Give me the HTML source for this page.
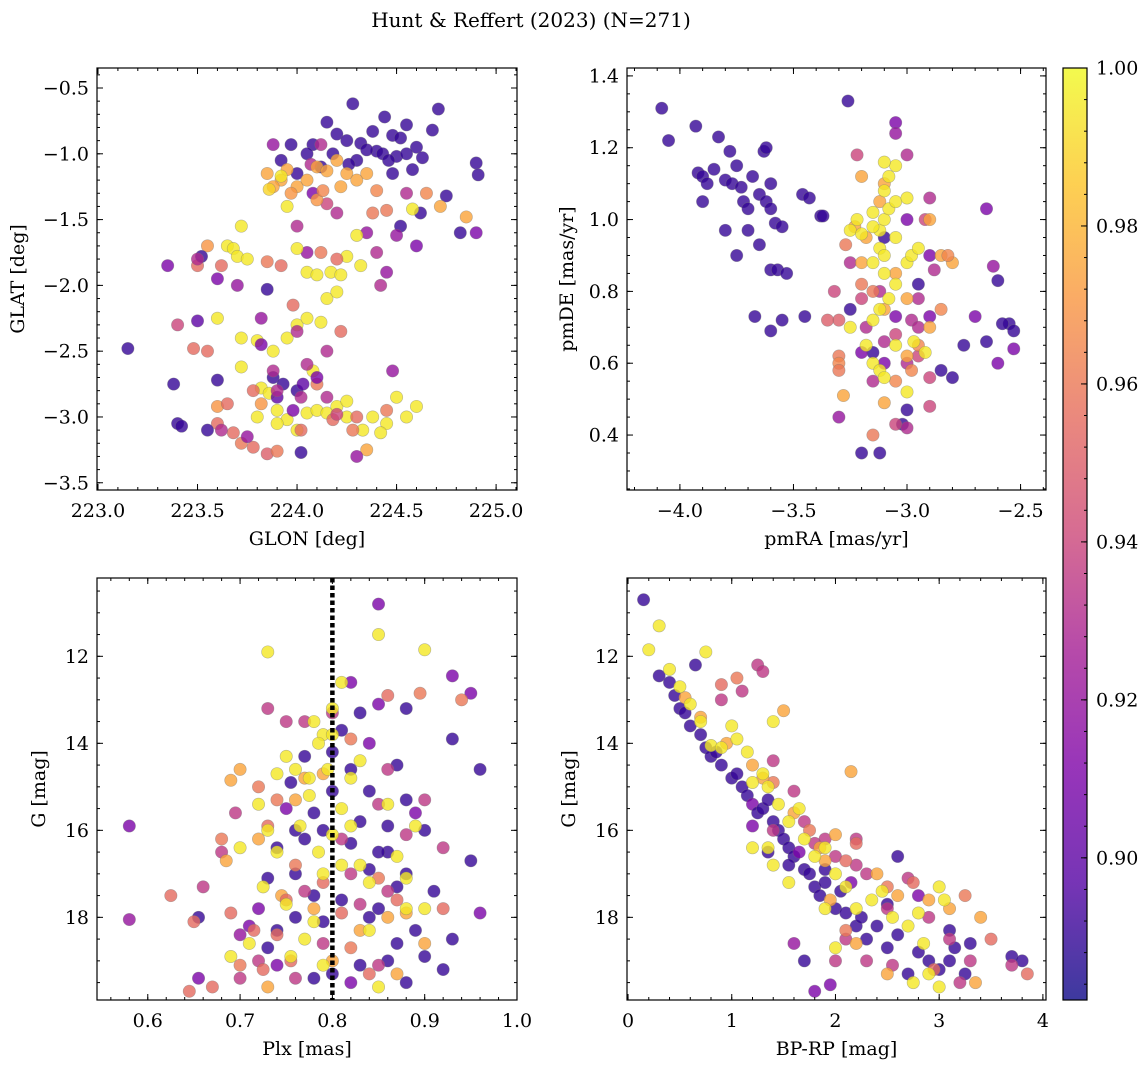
<!DOCTYPE html>
<html><head><meta charset="utf-8"><style>
html,body{margin:0;padding:0;background:#fff;}
svg{display:block;font-family:"DejaVu Serif","Liberation Serif",serif;}
</style></head><body>
<svg id="chart" width="1148" height="1067" viewBox="0 0 1148 1067">
<text x="531" y="27" font-size="20" text-anchor="middle">Hunt &amp; Reffert (2023) (N=271)</text>
</svg>
<script>
// ---- data: [x, y, membership probability] ----
const posData = [
[224.28,-0.62,0.89],[224.71,-0.66,0.89],[224.44,-0.72,0.89],[224.15,-0.76,0.89],[224.55,-0.78,0.89],[224.2,-0.85,0.89],[224.38,-0.83,0.89],[224.48,-0.86,0.89],[224.52,-0.88,0.89],[224.25,-0.9,0.89],[224.32,-0.92,0.89],[224.08,-0.93,0.89],[224.6,-0.95,0.89],[224.4,-0.98,0.89],[224.35,-0.97,0.89],[224.43,-1.0,0.89],[224.5,-1.02,0.89],[224.55,-1.0,0.89],[224.63,-1.03,0.89],[224.46,-1.05,0.89],[224.3,-1.05,0.89],[224.26,-1.08,0.89],[224.18,-1.0,0.89],[224.12,-1.1,0.89],[224.68,-0.82,0.89],[224.9,-1.07,0.89],[224.91,-1.16,0.89],[224.58,-1.12,0.89],[224.48,-1.15,0.89],[224.75,-1.32,0.89],[224.62,-1.45,0.89],[224.82,-1.6,0.89],[224.9,-1.6,0.91],[224.6,-1.7,0.91],[224.52,-1.55,0.89],[223.97,-0.93,0.89],[224.0,-1.15,0.89],[223.92,-1.05,0.89],[224.08,-1.3,0.91],[224.12,-0.93,0.93],[224.05,-1.0,0.89],
[223.88,-0.93,0.92],[224.07,-1.08,0.93],[224.2,-1.45,0.93],[224.35,-1.6,0.92],[224.05,-1.75,0.92],[224.0,-1.55,0.93],[224.15,-1.38,0.94],[224.55,-1.3,0.93],[224.5,-1.62,0.92],[224.4,-1.75,0.93],[224.45,-1.9,0.92],
[223.85,-1.15,0.975],[223.92,-1.2,0.975],[223.95,-1.12,0.975],[224.0,-1.25,0.975],[224.1,-1.1,0.975],[224.15,-1.13,0.975],[224.2,-1.05,0.975],[224.25,-1.15,0.975],[224.3,-1.2,0.975],[223.97,-1.3,0.97],[224.05,-1.2,0.975],[224.1,-1.35,0.97],[223.88,-1.25,0.975],[224.13,-1.28,0.965],[224.22,-1.25,0.975],[224.35,-1.15,0.975],[224.4,-1.28,0.965],[224.65,-1.3,0.965],[224.72,-1.4,0.975],[224.85,-1.48,0.975],[224.38,-1.45,0.96],[224.45,-1.43,0.96],
[223.92,-1.17,0.995],[223.95,-1.4,0.995],[223.86,-1.27,0.99],[223.72,-1.55,0.995],[223.65,-1.7,0.995],[223.68,-1.72,0.995],[223.7,-1.78,0.995],[223.75,-1.8,0.995],[224.0,-1.72,0.995],[224.05,-1.9,0.995],[224.1,-1.92,0.995],[224.17,-1.9,0.995],[224.22,-1.92,0.995],[224.25,-1.78,0.995],[224.3,-1.62,0.995],[224.32,-1.85,0.995],[224.58,-1.42,0.995],[224.15,-2.1,0.995],[224.2,-2.05,0.995],[224.0,-2.3,0.995],[224.05,-2.25,0.995],[224.12,-2.28,0.995],[223.88,-2.5,0.995],[223.72,-2.4,0.995],[223.8,-2.42,0.995],[223.6,-2.25,0.995],[223.95,-2.4,0.995],
[223.82,-2.78,0.995],[223.86,-2.82,0.995],[223.9,-2.95,0.995],[223.95,-3.02,0.995],[224.0,-3.1,0.995],[224.05,-2.97,0.995],[224.1,-2.95,0.995],[224.15,-2.97,0.995],[224.2,-2.92,0.995],[224.25,-3.0,0.995],[224.38,-3.0,0.995],[224.45,-3.05,0.995],[224.5,-2.85,0.995],[224.6,-2.92,0.995],[224.42,-3.12,0.995],[223.9,-3.05,0.995],[224.25,-2.88,0.995],[224.33,-3.1,0.995],[223.72,-2.62,0.995],[224.08,-2.65,0.995],[223.8,-3.0,0.995],[224.55,-3.0,0.995],
[223.6,-3.05,0.955],[223.68,-3.12,0.955],[223.72,-3.2,0.96],[223.78,-3.23,0.955],[223.85,-3.28,0.95],[223.9,-3.26,0.96],[224.02,-3.1,0.955],[224.18,-3.02,0.955],[224.28,-3.1,0.96],[224.35,-3.25,0.975],[224.45,-2.95,0.96],[223.78,-2.8,0.955],[223.6,-2.92,0.97],[223.65,-2.9,0.955],[223.55,-2.5,0.955],[223.48,-2.48,0.955],[223.5,-1.85,0.955],[223.55,-1.7,0.97],[223.62,-1.85,0.955],[223.85,-1.82,0.96],[223.92,-1.85,0.955],[224.2,-1.8,0.955],[224.12,-1.75,0.96],[223.98,-2.15,0.955],[224.22,-2.35,0.955],[224.1,-2.75,0.96],[224.3,-3.0,0.955],[223.82,-2.9,0.97],
[223.15,-2.48,0.89],[223.38,-2.75,0.89],[223.4,-3.05,0.89],[223.42,-3.07,0.89],[223.55,-3.1,0.89],[223.5,-2.27,0.9],[223.4,-2.3,0.94],[223.35,-1.85,0.91],[223.52,-1.78,0.89],[223.6,-2.72,0.89],[223.82,-2.45,0.91],[223.88,-2.7,0.89],[223.93,-2.75,0.89],[224.0,-2.8,0.89],[223.98,-2.95,0.91],[224.02,-3.27,0.89],[224.05,-2.6,0.93],[224.1,-2.7,0.91],[223.9,-2.85,0.9],[224.3,-3.3,0.92],[224.48,-2.65,0.92],[223.85,-2.03,0.89],[223.62,-3.1,0.93],[223.75,-3.15,0.92],[224.03,-2.75,0.9],[223.82,-2.25,0.92],[223.7,-2.0,0.92],[223.6,-1.95,0.91],
[223.5,-1.8,0.93],[224.15,-2.85,0.93],[224.2,-2.98,0.94],[223.88,-2.65,0.93],[224.02,-2.85,0.93],[223.9,-2.8,0.93],[224.42,-2.0,0.93],[224.0,-2.35,0.93],[224.15,-2.5,0.93]
];
const pmData = [
[-4.08,1.31,0.89],[-4.05,1.22,0.89],[-3.93,1.26,0.89],[-3.92,1.13,0.89],[-3.9,1.12,0.89],[-3.88,1.1,0.89],[-3.85,1.14,0.89],[-3.83,1.23,0.89],[-3.8,1.11,0.89],[-3.78,1.19,0.89],[-3.77,1.1,0.89],[-3.75,1.15,0.89],[-3.73,1.09,0.89],[-3.72,1.05,0.89],[-3.7,1.03,0.89],[-3.68,1.12,0.89],[-3.65,1.07,0.89],[-3.63,1.19,0.89],[-3.62,1.2,0.89],[-3.6,1.1,0.89],[-3.62,1.05,0.89],[-3.6,1.03,0.89],[-3.58,0.99,0.89],[-3.7,0.97,0.89],[-3.8,0.97,0.89],[-3.9,1.05,0.89],[-3.65,0.93,0.89],[-3.75,0.9,0.89],[-3.55,0.98,0.89],[-3.6,0.86,0.89],[-3.57,0.86,0.89],[-3.53,0.85,0.89],[-3.46,1.07,0.89],[-3.43,1.06,0.89],[-3.38,1.01,0.89],[-3.37,1.01,0.89],[-3.67,0.73,0.89],[-3.55,0.72,0.89],[-3.6,0.69,0.89],[-3.45,0.73,0.89],[-3.26,1.33,0.89],[-3.05,1.27,0.91],[-3.05,1.24,0.92],[-3.0,0.47,0.89],[-3.02,0.43,0.89],[-3.12,0.35,0.89],[-3.2,0.35,0.89],[-2.65,1.03,0.91],[-2.62,0.87,0.92],[-2.6,0.83,0.89],[-2.55,0.71,0.89],[-2.53,0.69,0.89],[-2.53,0.64,0.91],[-2.58,0.71,0.89],[-2.6,0.6,0.91],[-2.65,0.66,0.89],[-2.7,0.73,0.91],[-2.75,0.65,0.89],[-2.8,0.56,0.89],[-2.85,0.58,0.89],[-2.9,0.73,0.91],[-3.1,0.6,0.91],[-3.15,0.63,0.89],[-3.2,0.63,0.91],[-3.25,0.75,0.89],[-3.05,0.73,0.91],[-2.95,0.82,0.89],[-3.0,1.0,0.91],[-2.9,0.9,0.91],[-3.1,0.95,0.89],
[-3.22,1.18,0.94],[-3.0,1.18,0.93],[-2.9,1.06,0.93],[-2.92,1.0,0.94],[-2.88,0.86,0.93],[-2.95,0.78,0.93],[-2.98,0.72,0.93],[-3.32,0.8,0.94],[-3.3,0.45,0.92],[-3.05,0.43,0.94],[-3.0,0.42,0.93],[-2.9,0.48,0.94],[-3.15,0.55,0.93],[-3.18,0.7,0.93],[-3.12,0.8,0.93],[-3.25,0.88,0.93],[-3.2,0.78,0.94],[-3.3,0.72,0.95],[-3.35,0.72,0.95],[-3.0,0.6,0.93],[-2.95,0.62,0.94],[-2.9,0.56,0.94],[-3.1,0.66,0.93],[-2.95,0.7,0.93],[-3.05,0.68,0.94],
[-3.3,0.62,0.96],[-3.3,0.6,0.965],[-3.3,0.58,0.96],[-3.28,0.51,0.975],[-3.15,0.4,0.96],[-3.1,0.49,0.975],[-3.2,0.82,0.96],[-3.18,0.95,0.975],[-3.12,1.05,0.975],[-2.9,1.0,0.975],[-2.85,0.9,0.975],[-2.8,0.88,0.975],[-2.82,0.9,0.965],[-2.85,0.75,0.965],[-2.9,0.7,0.975],[-2.95,0.65,0.965],[-3.05,0.55,0.965],[-3.1,0.75,0.975],[-3.15,0.8,0.96],[-3.2,0.88,0.975],[-3.05,0.85,0.975],[-3.0,0.78,0.975],[-3.2,1.12,0.975],[-3.1,1.1,0.975],[-3.23,0.98,0.975],[-3.27,0.93,0.96],[-3.0,0.62,0.975],[-2.98,0.58,0.965],
[-3.25,0.97,0.995],[-3.22,1.0,0.995],[-3.2,0.96,0.995],[-3.15,1.02,0.995],[-3.12,0.97,0.995],[-3.1,1.0,0.995],[-3.08,1.03,0.995],[-3.05,1.05,0.995],[-3.1,1.08,0.995],[-3.08,1.12,0.995],[-3.05,1.15,0.995],[-3.1,1.16,0.995],[-3.0,1.06,0.995],[-3.12,0.92,0.995],[-3.15,0.88,0.995],[-3.1,0.85,0.995],[-3.05,0.82,0.995],[-3.08,0.78,0.995],[-3.0,0.88,0.995],[-2.98,0.9,0.995],[-2.95,0.92,0.995],[-3.12,0.75,0.995],[-3.15,0.72,0.995],[-3.18,0.65,0.995],[-3.15,0.6,0.995],[-3.12,0.58,0.995],[-3.1,0.56,0.995],[-3.0,0.52,0.995],[-2.97,0.66,0.995],[-2.92,0.63,0.995],[-3.25,0.7,0.995],[-3.05,0.65,0.995],[-3.05,0.95,0.995],[-3.15,0.98,0.995],[-3.1,0.9,0.995]
];
const plxData = [
[0.58,15.9,0.91],[0.58,18.05,0.92],[0.655,18.0,0.89],[0.655,19.4,0.91],[0.85,10.8,0.91],[0.88,13.2,0.89],[0.93,12.45,0.91],[0.95,12.85,0.91],[0.93,13.9,0.89],[0.96,14.6,0.89],[0.95,16.7,0.89],[0.96,17.9,0.91],[0.93,18.5,0.89],[0.92,19.2,0.89],[0.9,16.0,0.89],[0.88,15.3,0.89],[0.87,14.5,0.89],[0.86,16.5,0.89],[0.85,16.5,0.89],[0.84,15.1,0.89],[0.82,14.6,0.89],[0.83,13.3,0.89],[0.82,12.6,0.91],[0.81,13.7,0.89],[0.8,15.1,0.89],[0.78,15.6,0.89],[0.77,16.2,0.89],[0.76,16.0,0.89],[0.75,15.5,0.91],[0.74,16.4,0.89],[0.73,17.1,0.89],[0.72,17.8,0.91],[0.73,18.7,0.89],[0.74,19.1,0.91],[0.76,17.0,0.89],[0.78,17.5,0.89],[0.79,18.1,0.89],[0.8,19.3,0.89],[0.82,19.5,0.91],[0.83,19.1,0.89],[0.84,18.0,0.89],[0.85,17.8,0.89],[0.87,17.3,0.89],[0.88,17.0,0.89],[0.89,18.3,0.89],[0.9,18.9,0.89],[0.86,19.0,0.89],[0.84,16.9,0.89],[0.83,15.8,0.89],[0.82,16.3,0.89],[0.81,17.6,0.89],[0.8,14.2,0.89],[0.79,16.0,0.89],[0.77,14.3,0.89],[0.755,14.9,0.89],[0.87,18.6,0.89],[0.88,19.5,0.89],[0.84,14.0,0.91],[0.86,15.9,0.89],[0.89,15.6,0.91],[0.91,17.4,0.89],[0.74,18.3,0.89],[0.71,18.2,0.91],[0.7,18.4,0.92],[0.78,19.4,0.89],[0.76,18.0,0.89],[0.85,13.1,0.91],
[0.66,17.3,0.935],[0.695,15.6,0.935],[0.73,13.2,0.935],[0.75,13.5,0.935],[0.77,17.4,0.935],[0.79,18.6,0.935],[0.81,16.2,0.935],[0.83,17.7,0.935],[0.85,19.1,0.935],[0.86,17.4,0.935],[0.88,16.1,0.935],[0.9,15.3,0.935],[0.92,16.4,0.935],[0.72,19.0,0.935],[0.7,19.4,0.935],[0.76,19.4,0.935],[0.8,13.3,0.935],[0.82,17.0,0.935],[0.85,15.4,0.935],[0.86,14.6,0.935],[0.77,13.5,0.935],[0.68,16.5,0.935],
[0.625,17.5,0.955],[0.645,19.7,0.955],[0.65,18.1,0.955],[0.67,19.6,0.955],[0.68,16.2,0.96],[0.685,16.7,0.975],[0.69,17.9,0.955],[0.69,14.85,0.975],[0.7,14.6,0.975],[0.72,16.2,0.975],[0.72,15.0,0.96],[0.725,19.2,0.955],[0.73,19.6,0.975],[0.74,18.4,0.955],[0.745,17.5,0.975],[0.75,17.6,0.955],[0.755,19.0,0.955],[0.76,16.8,0.96],[0.78,17.8,0.975],[0.79,17.2,0.955],[0.8,19.0,0.975],[0.81,17.9,0.955],[0.82,18.7,0.96],[0.83,18.3,0.975],[0.84,19.3,0.955],[0.85,17.1,0.96],[0.86,18.0,0.975],[0.87,17.6,0.955],[0.88,17.9,0.975],[0.895,12.85,0.96],[0.94,13.0,0.96],[0.86,12.9,0.955],[0.82,13.9,0.96],[0.77,14.8,0.975],[0.74,15.3,0.96],[0.73,15.9,0.955],[0.76,15.3,0.975],[0.79,14.7,0.975],[0.87,19.3,0.975],[0.9,18.6,0.975],[0.92,17.8,0.955],[0.7,19.1,0.96],[0.715,18.3,0.955],
[0.69,18.9,0.995],[0.73,11.9,0.995],[0.85,11.5,0.995],[0.9,11.85,0.995],[0.81,12.6,0.995],[0.8,13.2,0.995],[0.79,13.8,0.995],[0.78,13.5,0.995],[0.785,14.0,0.995],[0.795,14.6,0.995],[0.775,14.8,0.995],[0.76,14.6,0.995],[0.75,14.3,0.995],[0.74,14.7,0.995],[0.72,15.4,0.995],[0.73,16.0,0.995],[0.74,16.5,0.995],[0.75,17.7,0.995],[0.77,18.5,0.995],[0.78,18.1,0.995],[0.79,19.1,0.995],[0.8,16.1,0.995],[0.81,15.5,0.995],[0.82,15.9,0.995],[0.83,16.8,0.995],[0.84,17.2,0.995],[0.85,19.6,0.995],[0.86,15.4,0.995],[0.87,16.6,0.995],[0.88,17.8,0.995],[0.89,15.9,0.995],[0.9,17.8,0.995],[0.82,14.8,0.995],[0.8,13.8,0.995],[0.765,15.9,0.995],[0.725,17.3,0.995],[0.7,16.4,0.995],[0.71,18.6,0.995],[0.755,18.9,0.995],[0.79,17.0,0.995],[0.81,16.8,0.995],[0.84,18.3,0.995],[0.88,17.1,0.995],[0.83,14.4,0.995],[0.785,16.5,0.995],[0.775,15.2,0.995]
];
const cmdData = [
[0.15,10.7,0.89],[0.3,12.45,0.89],[0.4,12.6,0.89],[0.45,12.9,0.89],[0.5,13.2,0.89],[0.55,13.3,0.89],[0.6,13.6,0.89],[0.65,12.2,0.89],[0.7,13.8,0.89],[0.75,14.1,0.89],[0.8,14.3,0.89],[0.85,14.2,0.89],[0.9,14.5,0.89],[1.0,14.8,0.89],[1.05,14.7,0.89],[1.1,15.0,0.89],[1.15,15.2,0.89],[1.2,15.4,0.91],[1.25,15.6,0.89],[1.3,15.5,0.89],[1.35,15.3,0.89],[1.4,15.8,0.89],[1.45,16.0,0.89],[1.5,16.2,0.89],[1.55,16.4,0.89],[1.6,16.6,0.89],[1.65,16.5,0.91],[1.7,16.9,0.89],[1.75,17.0,0.89],[1.8,17.3,0.89],[1.85,17.5,0.89],[1.9,17.2,0.89],[2.0,17.8,0.89],[2.05,17.4,0.89],[2.1,17.9,0.89],[2.2,18.2,0.89],[2.25,18.0,0.89],[2.3,18.5,0.89],[2.4,18.2,0.89],[2.5,18.7,0.89],[2.6,18.4,0.89],[2.7,19.3,0.89],[2.8,18.8,0.89],[2.9,19.0,0.89],[3.0,19.2,0.89],[3.1,19.0,0.89],[3.15,18.7,0.89],[3.25,19.3,0.89],[3.3,18.6,0.89],[3.7,18.9,0.89],[3.8,19.0,0.89],[1.8,19.7,0.91],[1.95,19.55,0.91],[1.6,18.6,0.92],[1.7,19.0,0.89],[1.2,15.9,0.91],[1.35,16.5,0.89],[1.55,16.8,0.89],[1.9,16.9,0.89],[2.15,17.2,0.91],[2.5,17.7,0.89],[2.6,16.6,0.89],[2.8,17.5,0.91],[3.1,18.3,0.89],
[1.25,12.2,0.935],[1.3,12.35,0.935],[0.9,13.0,0.935],[1.1,12.8,0.935],[1.4,14.4,0.935],[1.6,15.1,0.935],[1.7,15.8,0.935],[1.8,16.3,0.935],[1.9,16.2,0.935],[2.0,16.6,0.935],[2.2,16.8,0.935],[2.3,17.0,0.935],[2.5,17.8,0.935],[2.7,17.1,0.935],[2.9,18.0,0.935],[3.1,18.5,0.935],[3.3,19.0,0.935],[3.7,19.1,0.935],[3.85,19.3,0.955],[2.1,18.5,0.935],[2.3,19.0,0.935],[2.0,19.0,0.935],[2.2,16.2,0.935],[1.4,16.0,0.935],[3.5,18.5,0.955],[2.55,19.1,0.935],[3.2,19.5,0.935],
[0.55,12.95,0.975],[0.9,12.65,0.955],[1.05,12.5,0.96],[1.5,13.25,0.975],[0.7,13.4,0.975],[0.95,14.0,0.975],[1.2,14.5,0.975],[1.4,14.9,0.96],[1.6,15.6,0.975],[1.75,16.0,0.96],[1.85,16.4,0.975],[2.0,16.1,0.975],[2.1,16.7,0.955],[2.15,14.65,0.975],[2.2,16.3,0.955],[2.4,17.0,0.975],[2.6,17.5,0.975],[2.75,17.2,0.955],[2.9,17.6,0.975],[3.1,17.8,0.975],[3.25,17.5,0.96],[3.4,18.0,0.975],[2.2,18.6,0.975],[2.5,19.3,0.975],[2.95,19.2,0.955],[3.35,19.5,0.975],[2.1,18.3,0.96],[1.95,17.6,0.975],[1.9,16.7,0.975],[1.3,14.8,0.975],[2.5,17.3,0.96],
[0.2,11.85,0.995],[0.3,11.3,0.995],[0.75,11.9,0.995],[0.4,12.3,0.995],[0.5,12.7,0.995],[0.6,13.1,0.995],[0.7,13.5,0.995],[0.8,14.05,0.995],[0.9,14.1,0.995],[1.0,13.6,0.995],[1.05,13.9,0.995],[1.15,14.2,0.995],[1.2,14.9,0.995],[1.4,13.5,0.995],[1.3,14.7,0.995],[1.35,15.0,0.995],[1.45,15.4,0.995],[1.55,15.8,0.995],[1.65,15.5,0.995],[1.7,16.2,0.995],[1.8,16.6,0.995],[1.9,16.4,0.995],[2.0,17.0,0.995],[2.1,17.3,0.995],[2.2,17.8,0.995],[2.35,17.6,0.995],[2.45,17.4,0.995],[2.55,18.0,0.995],[2.7,18.2,0.995],[2.8,17.9,0.995],[3.0,17.3,0.995],[3.05,17.6,0.995],[3.0,19.6,0.995],[2.9,19.3,0.995],[2.75,19.5,0.995],[2.85,18.6,0.995],[1.4,16.8,0.995],[1.35,16.4,0.995],[1.2,16.4,0.995],[1.55,17.2,0.995],[1.9,17.8,0.995],[2.0,18.7,0.995]
];
const ticksPosX = [223.0,223.5,224.0,224.5,225.0];
const ticksPosY = [-0.5,-1.0,-1.5,-2.0,-2.5,-3.0,-3.5];
const ticksPmX = [-4.0,-3.5,-3.0,-2.5];
const ticksPmY = [1.4,1.2,1.0,0.8,0.6,0.4];
const ticksPlxX = [0.6,0.7,0.8,0.9,1.0];
const ticksGY = [12,14,16,18];
const ticksColX = [0,1,2,3,4];
const ticksCbar = [0.90,0.92,0.94,0.96,0.98,1.00];
const plxCut = 0.8;
const cMin = 0.882, cMax = 1.0;

const FS = 19;
const NS = "http://www.w3.org/2000/svg";
const svg = document.getElementById('chart');
function mk(tag, attrs, parent){const e=document.createElementNS(NS,tag);for(const k in attrs)e.setAttribute(k,attrs[k]);(parent||svg).appendChild(e);return e;}

const plasma = [[13,8,135],[84,2,163],[126,3,168],[164,29,148],[204,71,120],[229,107,93],[248,149,64],[253,196,39],[240,249,33]];
function cmap(p){let t=(p-cMin)/(cMax-cMin);t=Math.max(0,Math.min(1,t));const f=t*(plasma.length-1);const i=Math.min(plasma.length-2,Math.floor(f));const u=f-i;const a=plasma[i],b=plasma[i+1];return `rgb(${Math.round(a[0]+(b[0]-a[0])*u)},${Math.round(a[1]+(b[1]-a[1])*u)},${Math.round(a[2]+(b[2]-a[2])*u)})`;}
function fmt(v,d){const s=Math.abs(v).toFixed(d);return (v<0?'\u2212':'')+s;}

function panel(cfg){
  const {name,L,T,R,B,xmin,xmax,ymin,ymax,invY,data,xt,yt,xd,yd,xminor,yminor,xlabel,ylabel} = cfg;
  const g = mk('g',{});
  
  
  const sx = v => L + (v - xmin)/(xmax - xmin)*(R - L);
  const sy = invY ? (v => T + (v - ymin)/(ymax - ymin)*(B - T)) : (v => B - (v - ymin)/(ymax - ymin)*(B - T));
  const pts = mk('g',{}, g);
  
  
  data.forEach(d=>{
    const c = mk('circle',{cx:sx(d[0]),cy:sy(d[1]),r:6.2,fill:cmap(d[2]),'fill-opacity':0.8,stroke:'#777','stroke-opacity':0.5,'stroke-width':0.6}, pts);
    
    
  });
  if(cfg.extra) cfg.extra(g,sx,sy);
  const frame = mk('rect',{x:L,y:T,width:R-L,height:B-T,fill:'none',stroke:'#000','stroke-width':1.2}, g);
  
  
  const tk = mk('g',{stroke:'#000','stroke-width':1}, g);
  
  
  const lo=Math.min(xmin,xmax), hi=Math.max(xmin,xmax);
  for(let v=Math.ceil(lo/xminor-1e-6)*xminor; v<=hi+1e-9; v+=xminor){const x=sx(v);mk('line',{x1:x,x2:x,y1:B,y2:B-3},tk);mk('line',{x1:x,x2:x,y1:T,y2:T+3},tk);}
  for(let v=Math.ceil(Math.min(ymin,ymax)/yminor-1e-6)*yminor; v<=Math.max(ymin,ymax)+1e-9; v+=yminor){const y=sy(v);mk('line',{x1:L,x2:L+3,y1:y,y2:y},tk);mk('line',{x1:R,x2:R-3,y1:y,y2:y},tk);}
  xt.forEach(v=>{const x=sx(v);mk('line',{x1:x,x2:x,y1:B,y2:B-6},tk);mk('line',{x1:x,x2:x,y1:T,y2:T+6},tk);
    const t=mk('text',{x:x,y:B+27,'font-size':FS,'text-anchor':'middle'},g);t.textContent=fmt(v,xd);
    
    });
  yt.forEach(v=>{const y=sy(v);mk('line',{x1:L,x2:L+6,y1:y,y2:y},tk);mk('line',{x1:R,x2:R-6,y1:y,y2:y},tk);
    const t=mk('text',{x:L-8,y:y+6.5,'font-size':FS,'text-anchor':'end'},g);t.textContent=fmt(v,yd);
    
    });
  const xl=mk('text',{x:(L+R)/2,y:B+55,'font-size':FS,'text-anchor':'middle'},g);xl.textContent=xlabel;
  
  
  const ylx = cfg.ylx;
  const yl=mk('text',{x:ylx,y:(T+B)/2,'font-size':FS,'text-anchor':'middle',transform:`rotate(-90 ${ylx} ${(T+B)/2})`},g);yl.textContent=ylabel;
  
  
}

panel({name:'position-panel',L:97,T:68,R:517,B:490,xmin:222.995,xmax:225.105,ymin:-3.555,ymax:-0.348,invY:false,data:posData,xt:ticksPosX,yt:ticksPosY,xd:1,yd:1,xminor:0.1,yminor:0.1,xlabel:'GLON [deg]',ylabel:'GLAT [deg]',ylx:24});
panel({name:'proper-motion-panel',L:627,T:68,R:1046,B:490,xmin:-4.233,xmax:-2.388,ymin:0.247,ymax:1.422,invY:false,data:pmData,xt:ticksPmX,yt:ticksPmY,xd:1,yd:1,xminor:0.1,yminor:0.05,xlabel:'pmRA [mas/yr]',ylabel:'pmDE [mas/yr]',ylx:573});
panel({name:'parallax-panel',L:97,T:578,R:517,B:1000,xmin:0.545,xmax:1.0,ymin:10.2,ymax:19.9,invY:true,data:plxData,xt:ticksPlxX,yt:ticksGY,xd:1,yd:0,xminor:0.02,yminor:0.5,xlabel:'Plx [mas]',ylabel:'G [mag]',ylx:45,
  extra:(g,sx,sy)=>{const l=mk('line',{x1:sx(plxCut),x2:sx(plxCut),y1:578,y2:1000,stroke:'#000','stroke-width':4.5,'stroke-dasharray':'4.5 3'},g);
    
    }});
panel({name:'cmd-panel',L:627,T:578,R:1046,B:1000,xmin:-0.01,xmax:4.03,ymin:10.2,ymax:19.9,invY:true,data:cmdData,xt:ticksColX,yt:ticksGY,xd:0,yd:0,xminor:0.2,yminor:0.5,xlabel:'BP-RP [mag]',ylabel:'G [mag]',ylx:575});

// colorbar
const cb = mk('g',{});


const defs = mk('defs',{}, cb);
const grad = mk('linearGradient',{id:'cbg',x1:0,y1:1,x2:0,y2:0}, defs);
plasma.forEach((c,i)=>mk('stop',{offset:i/(plasma.length-1),'stop-color':`rgb(${c[0]},${c[1]},${c[2]})`},grad));
const CL=1063,CR=1087,CT=68,CB=1000;
mk('rect',{x:CL,y:CT,width:CR-CL,height:CB-CT,fill:'url(#cbg)','fill-opacity':0.8},cb);
mk('rect',{x:CL,y:CT,width:CR-CL,height:CB-CT,fill:'none',stroke:'#000','stroke-width':1.2},cb);
const cy = v => CB - (v-cMin)/(cMax-cMin)*(CB-CT);
for(let v=0.884; v<=1.0001; v+=0.004){mk('line',{x1:CR,x2:CR-3,y1:cy(v),y2:cy(v),stroke:'#000'},cb);}
ticksCbar.forEach(v=>{mk('line',{x1:CR,x2:CR-6,y1:cy(v),y2:cy(v),stroke:'#000'},cb);
  const t=mk('text',{x:CR+9,y:cy(v)+6.5,'font-size':FS},cb);t.textContent=v.toFixed(2);
  
  });
</script>
</body></html>
